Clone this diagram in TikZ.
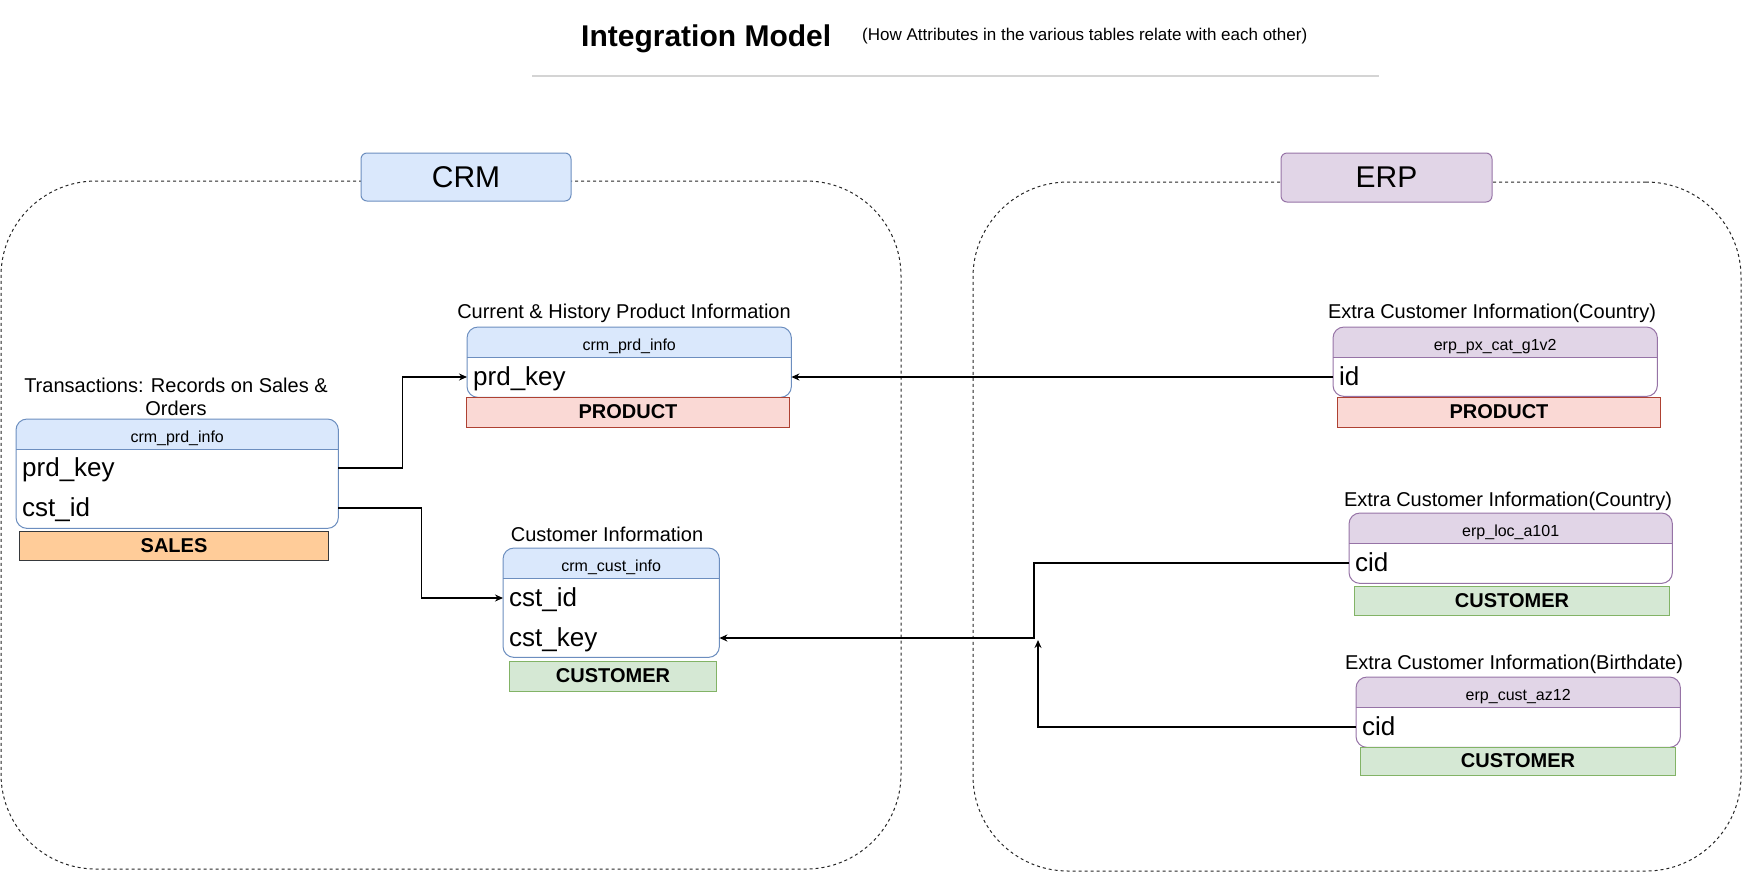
\documentclass[tikz,border=0pt]{standalone}
\usepackage{fontspec}
\setmainfont{Liberation Sans}
\usetikzlibrary{arrows.meta}
\definecolor{hdrblue}{HTML}{DAE8FC}
\definecolor{bdblue}{HTML}{6C8EBF}
\definecolor{hdrpurple}{HTML}{E1D5E7}
\definecolor{bdpurple}{HTML}{9673A6}
\definecolor{prodfill}{HTML}{FAD9D5}
\definecolor{prodbd}{HTML}{AE4132}
\definecolor{custfill}{HTML}{D5E8D4}
\definecolor{custbd}{HTML}{82B366}
\definecolor{salesfill}{HTML}{FFCC99}
\definecolor{salesbd}{HTML}{36393D}
\definecolor{rulegray}{HTML}{D4D4D4}

\newcommand\erdtable[8]{%
  \node[tblbody, minimum width=#4pt, minimum height=#5pt, anchor=north west] (#1) at (#2,#3) {};
  \begin{scope}
    \clip[rounded corners=11pt] (#1.south west) rectangle (#1.north east);
    \fill[#6] (#1.north west) rectangle ([yshift=-30pt]#1.north east);
  \end{scope}
  \draw[#7, line width=1pt] ([yshift=-30pt]#1.north west) -- ([yshift=-30pt]#1.north east);
  \draw[#7, line width=1pt, rounded corners=11pt] (#1.south west) rectangle (#1.north east);
  \node[hdrtext, anchor=base] (#1-title) at ([yshift=-23pt]#1.north) {#8};
}

\begin{document}
\begin{tikzpicture}[x=1pt, y=-1pt,
  tblbody/.style={draw=none, fill=white, inner sep=0pt},
  hdrtext/.style={font=\fontsize{16}{19}\selectfont, inner sep=0pt},
  rowtext/.style={font=\fontsize{26}{30}\selectfont, inner xsep=6pt, inner ysep=0pt,
    text height=23pt, text depth=7pt, align=left, anchor=west},
  tag/.style={font=\fontsize{20}{24}\selectfont\bfseries, line width=1pt, inner sep=0pt, anchor=north west,
    text height=15pt, text depth=3pt},
  caption/.style={font=\fontsize{20}{23}\selectfont, inner sep=0pt, align=center},
  grplabel/.style={font=\fontsize{30}{36}\selectfont, rounded corners=6pt, line width=1pt, inner sep=0pt},
  container/.style={draw=black!85, dash pattern=on 3pt off 3pt, line width=1pt, rounded corners=95pt, inner sep=0pt},
  conn/.style={draw=black, line width=1.2pt, -{Stealth[length=8pt, width=7pt]}}
]
\useasboundingbox (0,0) rectangle (1742,873);

% title
\node[font=\fontsize{30}{36}\selectfont\bfseries, anchor=base west, inner sep=0pt] (title) at (581,46) {Integration Model};
\node[font=\fontsize{17}{20}\selectfont, anchor=base west, inner sep=0pt] (subtitle) at (862,40) {(How Attributes in the various tables relate with each other)};
\coordinate (ruleL) at (532,76);
\coordinate (ruleR) at (1379,76);
\draw[rulegray, line width=1.5pt] (ruleL) -- (ruleR);

% group containers
\node[container, minimum width=900pt, minimum height=688pt] (crmgrp) at (451,525) {};
\node[container, minimum width=768pt, minimum height=689pt] (erpgrp) at (1357,526.5) {};
\node[grplabel, fill=hdrblue, draw=bdblue, minimum width=210pt, minimum height=48pt] (crmlbl) at (466,177) {CRM};
\node[grplabel, fill=hdrpurple, draw=bdpurple, minimum width=211pt, minimum height=49pt] (erplbl) at (1386.5,177.5) {ERP};

% CRM: sales
\node[caption, anchor=south] (salescap) at (176,415.5) {Transactions: Records on Sales \&\\Orders};
\erdtable{sales}{16}{419}{322}{109}{hdrblue}{bdblue}{crm\_prd\_info}
\node[rowtext, text width=310pt] (salesprd) at (16,468) {prd\_key};
\node[rowtext, text width=310pt] (salescst) at (16,508) {cst\_id};
\node[tag, fill=salesfill, draw=salesbd, minimum width=309pt, minimum height=29pt] (salestag) at (19,531) {SALES};

% CRM: product info
\node[caption, anchor=base] (prdcap) at (624,318) {Current \& History Product Information};
\erdtable{prd}{467}{327}{324}{70}{hdrblue}{bdblue}{crm\_prd\_info}
\node[rowtext, text width=312pt] (prdkey) at (467,377) {prd\_key};
\node[tag, fill=prodfill, draw=prodbd, minimum width=323pt, minimum height=30pt] (prdtag) at (466,397) {PRODUCT};

% CRM: customer info
\node[caption, anchor=base] (custcap) at (607,541) {Customer Information};
\erdtable{cust}{503}{548}{216}{109}{hdrblue}{bdblue}{crm\_cust\_info}
\node[rowtext, text width=204pt] (custid) at (503,598) {cst\_id};
\node[rowtext, text width=204pt] (custkey) at (503,638) {cst\_key};
\node[tag, fill=custfill, draw=custbd, minimum width=207pt, minimum height=30pt] (custtag) at (509,661) {CUSTOMER};

% ERP: px_cat
\node[caption, anchor=base] (pxcap) at (1492,318) {Extra Customer Information(Country)};
\erdtable{px}{1333}{327}{324}{69}{hdrpurple}{bdpurple}{erp\_px\_cat\_g1v2}
\node[rowtext, text width=312pt] (pxid) at (1333,377) {id};
\node[tag, fill=prodfill, draw=prodbd, minimum width=323pt, minimum height=30pt] (pxtag) at (1337,397) {PRODUCT};

% ERP: loc
\node[caption, anchor=base] (loccap) at (1508,506) {Extra Customer Information(Country)};
\erdtable{loc}{1349}{513}{323}{70}{hdrpurple}{bdpurple}{erp\_loc\_a101}
\node[rowtext, text width=311pt] (loccid) at (1349,563) {cid};
\node[tag, fill=custfill, draw=custbd, minimum width=315pt, minimum height=29pt] (loctag) at (1354,586) {CUSTOMER};

% ERP: cust_az12
\node[caption, anchor=base] (azcap) at (1514,669) {Extra Customer Information(Birthdate)};
\erdtable{az}{1356}{677}{324}{70}{hdrpurple}{bdpurple}{erp\_cust\_az12}
\node[rowtext, text width=312pt] (azcid) at (1356,727) {cid};
\node[tag, fill=custfill, draw=custbd, minimum width=315pt, minimum height=28pt] (aztag) at (1360,747) {CUSTOMER};

% connectors
\draw[conn] (salesprd.east) -- ++(64,0) |- (prdkey.west);
\draw[conn] (salescst.east) -- ++(83,0) |- (custid.west);
\draw[conn] (pxid.west) -- (prdkey.east);
\coordinate (j4) at (1034,638);
\draw[conn] (loccid.west) -| (j4) -- (custkey.east);
\coordinate (j5) at (1038,640);
\draw[conn] (azcid.west) -| (j5);
\end{tikzpicture}
\end{document}
